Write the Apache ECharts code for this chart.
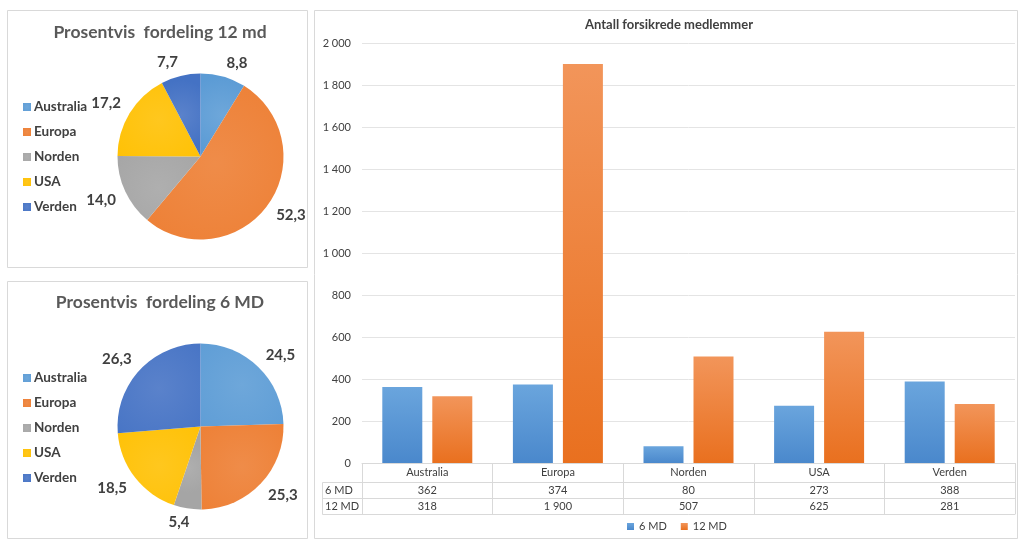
<!DOCTYPE html>
<html>
<head>
<meta charset="utf-8">
<script src="https://cdn.jsdelivr.net/npm/echarts@6/dist/echarts.min.js"></script>
<style>
html,body{margin:0;padding:0;background:#fff;}
#c{width:1024px;height:546px;}
</style>
</head>
<body>
<div id="c"></div>
<script>
const categories = ['Australia', 'Europa', 'Norden', 'USA', 'Verden'];
const md6 = [362, 374, 80, 273, 388];
const md12 = [318, 1900, 507, 625, 281];
const pct12 = [8.8, 52.3, 14.0, 17.2, 7.7];
const pct6 = [24.5, 25.3, 5.4, 18.5, 26.3];
const seriesNames = ['6 MD', '12 MD'];
const pieColors = ['#5B9BD5', '#ED7D31', '#A5A5A5', '#FFC000', '#4472C4'];

const FONT = 'Lato, "Open Sans", sans-serif';
const TXT = '#404040';
const fmtNum = v => String(v).replace(/\B(?=(\d{3})+(?!\d))/g, ' ');
const fmtPct = v => v.toFixed(1).replace('.', ',');

function grad(top, bottom) {
  return new echarts.graphic.LinearGradient(0, 0, 0, 1, [
    {offset: 0, color: top}, {offset: 1, color: bottom}
  ]);
}
function pieGrad(c) {
  return new echarts.graphic.RadialGradient(0.5, 0.5, 0.9, [
    {offset: 0, color: echarts.color.lift(c, 0.12)}, {offset: 1, color: c}
  ]);
}

const chart = echarts.init(document.getElementById('c'), null, {renderer: 'canvas'});

const PIE_R = 83;
function pieSeries(name, vals, center) {
  const total = vals.reduce((a, b) => a + b, 0);
  return {
    type: 'pie', name: name, center: center, radius: PIE_R,
    startAngle: 90, clockwise: true,
    data: categories.map((c, i) => ({name: c, value: vals[i], itemStyle: {color: pieGrad(pieColors[i])}})),
    label: {
      show: true, position: 'outside', formatter: p => fmtPct(p.value),
      color: TXT, fontFamily: FONT, fontSize: 15, fontWeight: 'bold'
    },
    labelLine: {show: false, length: 6, length2: 0},
    labelLayout: function (params) {
      const idx = params.dataIndex;
      let cum = 0;
      for (let i = 0; i < idx; i++) cum += vals[i];
      const mid = (cum + vals[idx] / 2) / total * Math.PI * 2;
      const s = Math.sin(mid), c = Math.cos(mid);
      const w = params.labelRect.width;
      const R = PIE_R + 8.5;
      const a = 1.1 * Math.min(1, Math.abs(s) / 0.25);
      const dx = R * s + Math.sign(s) * a * w / 2;
      const dy = -R * c - Math.sign(c) * 5.6;
      return {x: center[0] + dx, y: center[1] + dy, align: 'center', verticalAlign: 'middle'};
    },
    emphasis: {disabled: true},
    silent: true
  };
}

const pieLegend = (top) => ({
  data: categories, orient: 'vertical', left: 18, top: top,
  icon: 'rect', itemWidth: 8, itemHeight: 8, itemGap: 11,
  textStyle: {color: TXT, fontFamily: FONT, fontSize: 13.5, fontWeight: 'bold', lineHeight: 14, padding: [0, 0, 0, -2]},
  selectedMode: false
});

const tableAxis = (offset, vals, name, showTick) => ({
  type: 'category', data: categories, gridIndex: 0, position: 'bottom', offset: offset,
  axisLine: {show: true, lineStyle: {color: '#d9d9d9', width: 1}},
  axisTick: {show: showTick, length: 16, lineStyle: {color: '#d9d9d9'}, interval: 0},
  axisLabel: {show: !!vals, interval: 0, margin: 3, color: TXT, fontFamily: FONT, fontSize: 11,
    formatter: (v, i) => vals ? fmtNum(vals[i]) : ''},
  name: name || '', nameLocation: 'start', nameGap: 37,
  nameTextStyle: {align: 'left', verticalAlign: 'top', lineHeight: 16, color: TXT, fontFamily: FONT, fontSize: 11}
});

const option = {
  backgroundColor: '#ffffff',
  animation: false,
  textStyle: {fontFamily: FONT},
  title: [
    {text: 'Prosentvis  fordeling 12 md', left: 155, top: 18, textAlign: 'center',
      textStyle: {color: '#595959', fontFamily: FONT, fontSize: 17.5, fontWeight: 'bold'}},
    {text: 'Prosentvis  fordeling 6 MD', left: 155, top: 288, textAlign: 'center',
      textStyle: {color: '#595959', fontFamily: FONT, fontSize: 17.5, fontWeight: 'bold'}},
    {text: 'Antall forsikrede medlemmer', left: 664, top: 13, textAlign: 'center',
      textStyle: {color: TXT, fontFamily: FONT, fontSize: 13, fontWeight: 'bold'}}
  ],
  legend: [
    pieLegend(95),
    pieLegend(366),
    {data: seriesNames, left: 622, top: 516, icon: 'rect', itemWidth: 7, itemHeight: 7, itemGap: 14,
      textStyle: {color: TXT, fontFamily: FONT, fontSize: 11}, selectedMode: false}
  ],
  grid: {left: 362, right: 9, top: 43, bottom: 83, containLabel: false},
  xAxis: [
    {
      type: 'category', data: categories, position: 'bottom',
      axisLine: {show: true, lineStyle: {color: '#d9d9d9'}},
      axisTick: {show: true, length: 19, lineStyle: {color: '#d9d9d9'}, interval: 0},
      axisLabel: {interval: 0, margin: 4, color: TXT, fontFamily: FONT, fontSize: 11}
    },
    tableAxis(19, md6, '6 MD', true),
    tableAxis(35, md12, '12 MD', true),
    tableAxis(51, null, '', false)
  ],
  yAxis: {
    type: 'value', min: 0, max: 2000, interval: 200,
    axisLine: {show: false}, axisTick: {show: false},
    splitLine: {lineStyle: {color: '#e4e4e4'}},
    axisLabel: {margin: 11, color: TXT, fontFamily: FONT, fontSize: 11, formatter: v => fmtNum(v)}
  },
  series: [
    {type: 'bar', name: seriesNames[0], data: md6, xAxisIndex: 0, barWidth: 40, barGap: '25%',
      itemStyle: {color: grad('#6aa5dd', '#4a88cc')}, silent: true},
    {type: 'bar', name: seriesNames[1], data: md12, xAxisIndex: 0, barWidth: 40,
      itemStyle: {color: grad('#f2955a', '#e9701f')}, silent: true},
    pieSeries('12 md', pct12, [200.5, 156.5]),
    pieSeries('6 MD', pct6, [200.5, 426.5])
  ],
  graphic: [
    {type: 'rect', silent: true, shape: {x: 7.5, y: 10.5, width: 300, height: 257}, style: {fill: 'none', stroke: '#d9d9d9', lineWidth: 1}},
    {type: 'rect', silent: true, shape: {x: 7.5, y: 281.5, width: 300, height: 257}, style: {fill: 'none', stroke: '#d9d9d9', lineWidth: 1}},
    {type: 'rect', silent: true, shape: {x: 314.5, y: 10.5, width: 703, height: 528}, style: {fill: 'none', stroke: '#d9d9d9', lineWidth: 1}},
    {type: 'polyline', silent: true, shape: {points: [[362, 482.5], [322.5, 482.5], [322.5, 514.5], [362, 514.5]]}, style: {fill: 'none', stroke: '#d9d9d9', lineWidth: 1}},
    {type: 'line', silent: true, shape: {x1: 322.5, y1: 498.5, x2: 362, y2: 498.5}, style: {stroke: '#d9d9d9', lineWidth: 1}}
  ]
};
chart.setOption(option);
</script>
</body>
</html>
